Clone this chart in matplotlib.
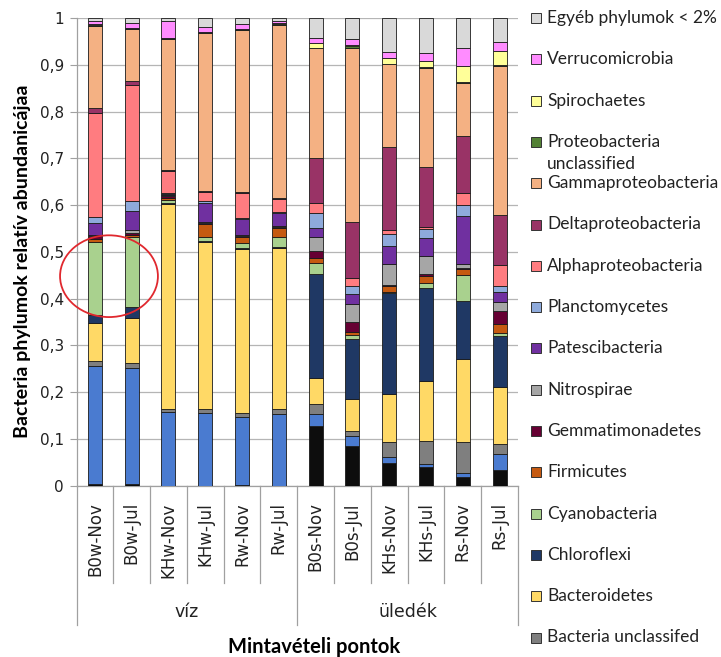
import matplotlib.pyplot as plt
import numpy as np
from matplotlib.patches import Ellipse, Rectangle
import matplotlib.transforms as mtransforms

# samples (x categories) and groups
samples = ["B0w-Nov", "B0w-Jul", "KHw-Nov", "KHw-Jul", "Rw-Nov", "Rw-Jul",
           "B0s-Nov", "B0s-Jul", "KHs-Nov", "KHs-Jul", "Rs-Nov", "Rs-Jul"]
groups = ["víz", "üledék"]
group_size = [6, 6]

ytick_vals = [0, 0.1, 0.2, 0.3, 0.4, 0.5, 0.6, 0.7, 0.8, 0.9, 1]
ytick_labels = ["0", "0,1", "0,2", "0,3", "0,4", "0,5", "0,6", "0,7", "0,8", "0,9", "1"]

# relative abundance per phylum (stack order, bottom to top)
acidobacteria = [.004, .004, 0, 0, .002, 0, .128, .085, .048, .039, .018, .034]
actinobacteria = [.252, .248, .158, .156, .144, .153, .025, .020, .014, .007, .008, .033]
bact_uncl = [.011, .010, .006, .007, .009, .010, .021, .011, .032, .050, .068, .022]
bacteroidetes = [.080, .097, .439, .359, .351, .345, .056, .069, .102, .128, .176, .121]
chloroflexi = [.019, .023, .002, .002, .002, .002, .223, .128, .217, .198, .125, .109]
cyanobacteria = [.156, .149, .006, .007, .011, .021, .023, .009, .002, .011, .056, .007]
firmicutes = [.006, .006, .004, .029, .013, .021, .010, .007, .012, .016, .012, .019]
gemmatimonadetes = [.005, .004, .004, .002, .002, .002, .016, .022, .003, .003, .002, .029]
nitrospirae = [.003, .005, .002, .002, .002, .002, .029, .038, .044, .040, .009, .018]
patescibacteria = [.025, .042, .003, .040, .035, .027, .021, .021, .039, .037, .103, .023]
planctomycetes = [.013, .020, .002, .004, .002, .003, .031, .017, .025, .020, .024, .012]
alphaproteo = [.224, .249, .048, .020, .054, .027, .021, .017, .009, .004, .026, .044]
deltaproteo = [.009, .009, .002, .002, .002, .002, .096, .119, .178, .128, .121, .108]
gammaproteo = [.176, .111, .279, .338, .346, .371, .236, .373, .177, .212, .113, .319]
proteo_uncl = [.002, .002, .002, .002, .002, .002, .001, .005, .001, .003, .003, .001]
spirochaetes = [.003, .001, .001, .001, .001, .001, .010, .002, .011, .013, .034, .030]
verrucomicrobia = [.007, .011, .037, .010, .009, .006, .010, .012, .014, .016, .038, .021]
egyeb = [.005, .009, .005, .019, .013, .005, .043, .045, .072, .075, .064, .050]

series = [
    ("Acidobacteria", acidobacteria, "#0d0d0d"),
    ("Actinobacteria", actinobacteria, "#4a7bd0"),
    ("Bacteria unclassifed", bact_uncl, "#7f7f7f"),
    ("Bacteroidetes", bacteroidetes, "#ffd966"),
    ("Chloroflexi", chloroflexi, "#1f3864"),
    ("Cyanobacteria", cyanobacteria, "#a9d18e"),
    ("Firmicutes", firmicutes, "#c55a11"),
    ("Gemmatimonadetes", gemmatimonadetes, "#660033"),
    ("Nitrospirae", nitrospirae, "#a6a6a6"),
    ("Patescibacteria", patescibacteria, "#7030a0"),
    ("Planctomycetes", planctomycetes, "#8eaadb"),
    ("Alphaproteobacteria", alphaproteo, "#ff7c80"),
    ("Deltaproteobacteria", deltaproteo, "#993366"),
    ("Gammaproteobacteria", gammaproteo, "#f4b183"),
    ("Proteobacteria\nunclassified", proteo_uncl, "#538135"),
    ("Spirochaetes", spirochaetes, "#ffff99"),
    ("Verrucomicrobia", verrucomicrobia, "#ff8cff"),
    ("Egyéb phylumok < 2%", egyeb, "#d9d9d9"),
]
legend_entries = series[2:][::-1]

W, H = 721, 657
fig = plt.figure(figsize=(W / 100, H / 100), dpi=100)
ax = fig.add_axes([76.5 / W, 1 - 485.5 / H, (518 - 76.5) / W, (485.5 - 18.3) / H])

x = np.arange(len(samples))
bottom = np.zeros(len(samples))
for name, vals, col in series:
    vals = np.array(vals)
    ax.bar(x, vals, 0.38, bottom=bottom, color=col, edgecolor="#1a1a1a",
           linewidth=0.6, zorder=3)
    bottom += vals

ax.set_xlim(-0.5, len(samples) - 0.5)
ax.set_ylim(0, 1)
ax.set_yticks(ytick_vals)
ax.set_yticklabels(ytick_labels, fontsize=11, color="#222222")
ax.set_xticks(x)
ax.set_xticklabels(samples, rotation=90, fontsize=12, color="#222222")
ax.tick_params(axis="x", length=0, pad=12)
ax.tick_params(axis="y", length=5, color="#a0a0a0", pad=4)
ax.grid(axis="y", color="#b5b5b5", linewidth=0.9, zorder=0)
for s in ["top", "right"]:
    ax.spines[s].set_visible(False)
for s in ["left", "bottom"]:
    ax.spines[s].set_color("#a0a0a0")
    ax.spines[s].set_linewidth(0.9)

# category separators and group labels below the axis
trans = mtransforms.blended_transform_factory(ax.transData, ax.transAxes)
ah = 485.5 - 18.3
sep_low = -(583 - 485.5) / ah
grp_low = -(625 - 485.5) / ah
group_edges = np.cumsum([0] + group_size) - 0.5
for b in np.arange(len(samples) + 1) - 0.5:
    low = grp_low if b in group_edges else sep_low
    ax.plot([b, b], [0, low], transform=trans, color="#a0a0a0", lw=0.9, clip_on=False)
for i, g in enumerate(groups):
    xc = (group_edges[i] + group_edges[i + 1]) / 2
    ax.text(xc, -(612 - 485.5) / ah, g, transform=trans, ha="center", va="center",
            fontsize=12.5, color="#222222")

# red highlight ellipse
ax.add_patch(Ellipse((0.383, 0.448), 2.66, 0.175, fill=False, edgecolor="#e0282e",
                     linewidth=1.3, zorder=5, clip_on=False))

fig.text(23 / W, 1 - 261 / H, "Bacteria phylumok relatív abundanicájaa", rotation=90,
         ha="center", va="center", fontsize=14, fontweight="bold", family="Lato")
fig.text(314 / W, 1 - 653 / H, "Mintavételi pontok", ha="center", va="baseline",
         fontsize=14.5, fontweight="bold", family="Lato")

# legend
for i, (name, vals, col) in enumerate(legend_entries):
    yp = 18 + 41.3 * i
    fig.add_artist(Rectangle((531 / W, 1 - (yp + 5) / H), 10 / W, 10 / H, facecolor=col,
                             edgecolor="#333333", linewidth=0.7, transform=fig.transFigure))
    for k, line in enumerate(name.split("\n")):
        fig.text(547 / W, 1 - (yp + 22 * k) / H, line, ha="left", va="center",
                 fontsize=12.5, family="Lato", color="#222222")

fig.savefig("out.png", dpi=100)
